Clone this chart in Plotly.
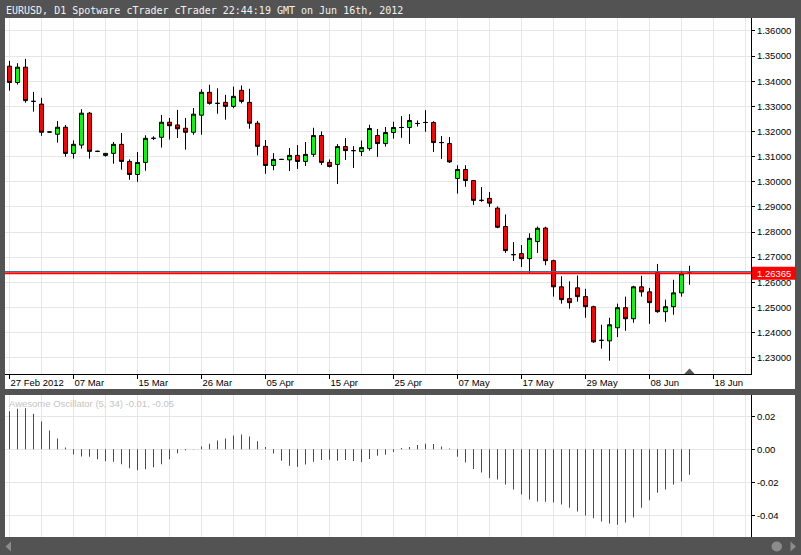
import plotly.graph_objects as go

# ---------------- data ----------------
TITLE = "EURUSD, D1 Spotware cTrader cTrader 22:44:19 GMT on Jun 16th, 2012"
OSC_LABEL = "Awesome Oscillator (5, 34) -0.01, -0.05"

date_ticks = [0, 8, 16, 24, 32, 40, 48, 56, 64, 72, 80, 88]
date_labels = ["27 Feb 2012", "07 Mar", "15 Mar", "26 Mar", "05 Apr", "15 Apr",
               "25 Apr", "07 May", "17 May", "29 May", "08 Jun", "18 Jun"]

opens = [1.3460, 1.3395, 1.3456, 1.3320, 1.3309, 1.3198, 1.3189, 1.3217, 1.3113, 1.3146,
         1.3273, 1.3121, 1.3105, 1.3113, 1.3149, 1.3081, 1.3029, 1.3077, 1.3173, 1.3177,
         1.3237, 1.3226, 1.3213, 1.3197, 1.3265, 1.3356, 1.3312, 1.3316, 1.3300, 1.3364,
         1.3316, 1.3233, 1.3141, 1.3065, 1.3089, 1.3087, 1.3105, 1.3081, 1.3109, 1.3184,
         1.3077, 1.3069, 1.3140, 1.3124, 1.3120, 1.3132, 1.3184, 1.3152, 1.3196, 1.3216,
         1.3216, 1.3232, 1.3236, 1.3236, 1.3156, 1.3152, 1.3013, 1.3049, 1.3005, 1.2926,
         1.2934, 1.2895, 1.2822, 1.2710, 1.2714, 1.2694, 1.2762, 1.2816, 1.2686, 1.2582,
         1.2535, 1.2578, 1.2543, 1.2503, 1.2369, 1.2367, 1.2419, 1.2499, 1.2455, 1.2582,
         1.2562, 1.2638, 1.2483, 1.2503, 1.2558, 1.2636]
highs = [1.3481, 1.3472, 1.3489, 1.3358, 1.3334, 1.3199, 1.3242, 1.3226, 1.3165, 1.3289,
         1.3278, 1.3124, 1.3114, 1.3158, 1.3194, 1.3089, 1.3118, 1.3185, 1.3181, 1.3266,
         1.3254, 1.3286, 1.3254, 1.3293, 1.3368, 1.3386, 1.3372, 1.3346, 1.3379, 1.3383,
         1.3370, 1.3242, 1.3166, 1.3114, 1.3091, 1.3134, 1.3146, 1.3158, 1.3215, 1.3200,
         1.3089, 1.3150, 1.3174, 1.3142, 1.3164, 1.3227, 1.3210, 1.3218, 1.3239, 1.3261,
         1.3269, 1.3244, 1.3285, 1.3241, 1.3182, 1.3178, 1.3066, 1.3066, 1.3006, 1.2979,
         1.2959, 1.2902, 1.2870, 1.2760, 1.2748, 1.2795, 1.2822, 1.2821, 1.2690, 1.2624,
         1.2604, 1.2627, 1.2574, 1.2507, 1.2431, 1.2459, 1.2515, 1.2543, 1.2586, 1.2626,
         1.2578, 1.2673, 1.2531, 1.2610, 1.2646, 1.2666]
lows = [1.3363, 1.3387, 1.3315, 1.3279, 1.3183, 1.3196, 1.3156, 1.3100, 1.3092, 1.3132,
        1.3092, 1.3118, 1.3100, 1.3072, 1.3048, 1.3008, 1.3000, 1.3044, 1.3166, 1.3136,
        1.3168, 1.3174, 1.3128, 1.3187, 1.3187, 1.3307, 1.3271, 1.3247, 1.3293, 1.3312,
        1.3211, 1.3105, 1.3032, 1.3046, 1.3087, 1.3043, 1.3051, 1.3063, 1.3099, 1.3067,
        1.3057, 1.2991, 1.3087, 1.3055, 1.3102, 1.3124, 1.3099, 1.3140, 1.3172, 1.3175,
        1.3151, 1.3220, 1.3199, 1.3119, 1.3091, 1.3075, 1.2953, 1.2980, 1.2908, 1.2920,
        1.2900, 1.2815, 1.2717, 1.2685, 1.2661, 1.2637, 1.2717, 1.2668, 1.2543, 1.2515,
        1.2495, 1.2523, 1.2459, 1.2359, 1.2336, 1.2288, 1.2382, 1.2407, 1.2439, 1.2543,
        1.2435, 1.2479, 1.2443, 1.2471, 1.2543, 1.2590]
closes = [1.3395, 1.3456, 1.3323, 1.3320, 1.3197, 1.3198, 1.3217, 1.3113, 1.3149, 1.3273,
          1.3121, 1.3121, 1.3113, 1.3149, 1.3081, 1.3029, 1.3077, 1.3173, 1.3173, 1.3237,
          1.3223, 1.3211, 1.3197, 1.3269, 1.3356, 1.3312, 1.3312, 1.3300, 1.3340, 1.3320,
          1.3233, 1.3141, 1.3065, 1.3089, 1.3089, 1.3105, 1.3081, 1.3109, 1.3184, 1.3077,
          1.3061, 1.3140, 1.3124, 1.3124, 1.3136, 1.3212, 1.3152, 1.3196, 1.3216, 1.3216,
          1.3244, 1.3232, 1.3236, 1.3156, 1.3156, 1.3079, 1.3049, 1.3005, 1.2926, 1.2926,
          1.2915, 1.2819, 1.2726, 1.2710, 1.2694, 1.2775, 1.2815, 1.2686, 1.2582, 1.2531,
          1.2519, 1.2543, 1.2503, 1.2363, 1.2369, 1.2431, 1.2499, 1.2455, 1.2582, 1.2562,
          1.2519, 1.2483, 1.2503, 1.2558, 1.2634, 1.26365]

ao = [0.0230, 0.0246, 0.0248, 0.0216, 0.0168, 0.0113, 0.0065, 0.0010, -0.0030, -0.0044,
      -0.0046, -0.0061, -0.0073, -0.0075, -0.0091, -0.0115, -0.0127, -0.0121, -0.0109, -0.0091,
      -0.0061, -0.0024, -0.0006, -0.0002, 0.0016, 0.0034, 0.0053, 0.0065, 0.0083, 0.0089,
      0.0077, 0.0048, 0.0014, -0.0026, -0.0069, -0.0100, -0.0106, -0.0093, -0.0075, -0.0065,
      -0.0063, -0.0070, -0.0065, -0.0071, -0.0077, -0.0059, -0.0040, -0.0034, -0.0016, 0.0008,
      0.0014, 0.0026, 0.0034, 0.0032, 0.0016, 0.0004, -0.0046, -0.0081, -0.0119, -0.0141,
      -0.0174, -0.0184, -0.0214, -0.0244, -0.0275, -0.0305, -0.0317, -0.0319, -0.0323, -0.0335,
      -0.0354, -0.0378, -0.0402, -0.0418, -0.0438, -0.0450, -0.0457, -0.0444, -0.0414, -0.0354,
      -0.0309, -0.0263, -0.0244, -0.0214, -0.0196, -0.0154]

osc_tickvals = [-0.04, -0.02, 0.0, 0.02]
osc_ticktext = ["-0.04", "-0.02", "0.00", "0.02"]

# ---------------- layout helpers ----------------
W, H = 801, 555
def px(x):
    return x / W
def py(y):
    return 1 - y / H

idx = list(range(len(closes)))
last = closes[-1]

PRICE_RANGE = [1.22351, 1.36517]   # axis window (y px 374 .. 18)
OSC_RANGE = [-0.0532, 0.0329]       # axis window (y px 537 .. 395)
X_RANGE = [-0.5625, 92.6875]        # 746 px / 93.25 = 8 px per bar
px_per_price = (374 - 18) / (PRICE_RANGE[1] - PRICE_RANGE[0])

FONT = "Liberation Sans, Arial, sans-serif"
FS = 9.5
GRID = "#e6e6e6"

ao_colors = ["#008000" if (i == 0 or ao[i] >= ao[i - 1]) else "#ff0000" for i in idx]

fig = go.Figure()
fig.add_trace(go.Candlestick(
    x=idx, open=opens, high=highs, low=lows, close=closes,
    increasing=dict(fillcolor="#00ff00", line=dict(color="black", width=1)),
    decreasing=dict(fillcolor="#ff0000", line=dict(color="black", width=1)),
    whiskerwidth=0, hoverinfo="skip", xaxis="x", yaxis="y"))

fig.add_trace(go.Bar(
    x=idx, y=ao, marker=dict(color=ao_colors, line=dict(width=0)),
    width=0.125, hoverinfo="skip", xaxis="x2", yaxis="y2"))

shapes = [
    # white panels
    dict(type="rect", xref="paper", yref="paper", x0=px(5), x1=px(795), y0=py(389), y1=py(18),
         fillcolor="white", line=dict(width=0), layer="below"),
    dict(type="rect", xref="paper", yref="paper", x0=px(5), x1=px(795), y0=py(537), y1=py(395),
         fillcolor="white", line=dict(width=0), layer="below"),
    # ask / bid price lines
    dict(type="line", xref="x domain", yref="y", x0=0, x1=1,
         y0=last + 1.6 / px_per_price, y1=last + 1.6 / px_per_price,
         line=dict(color="#3a6ea5", width=1)),
    dict(type="line", xref="x domain", yref="y", x0=0, x1=1, y0=last, y1=last,
         line=dict(color="#ff0000", width=2)),
    # price label box
    dict(type="rect", xref="paper", yref="y", x0=px(752), x1=px(796),
         y0=last - 6.5 / px_per_price, y1=last + 6.5 / px_per_price,
         fillcolor="#ff0000", line=dict(width=0)),
    # current-bar marker on the time axis
    dict(type="path", xref="x", yref="paper",
         path=f"M {idx[-1]-0.65},{py(374)} L {idx[-1]+0.65},{py(374)} L {idx[-1]},{py(368.5)} Z",
         fillcolor="#555555", line=dict(width=0)),
    # scrollbar glyphs
    dict(type="path", xref="paper", yref="paper",
         path=f"M {px(11)},{py(541.5)} L {px(11)},{py(551.5)} L {px(5.5)},{py(546.5)} Z",
         fillcolor="#8c8c8c", line=dict(width=0)),
    dict(type="path", xref="paper", yref="paper",
         path=f"M {px(790.5)},{py(541.5)} L {px(790.5)},{py(551.5)} L {px(796)},{py(546.5)} Z",
         fillcolor="#8c8c8c", line=dict(width=0)),
    dict(type="circle", xref="paper", yref="paper", x0=px(771.5), x1=px(782), y0=py(551.5), y1=py(541.5),
         fillcolor="#8c8c8c", line=dict(width=0)),
]

annotations = [
    dict(text=TITLE, xref="paper", yref="paper", x=px(4), y=py(10), xanchor="left", yanchor="middle",
         showarrow=False, font=dict(family="DejaVu Sans Mono, monospace", size=10, color="#f2f2f2")),
    dict(text=OSC_LABEL, xref="paper", yref="paper", x=px(7), y=py(403.5), xanchor="left", yanchor="middle",
         showarrow=False, font=dict(family=FONT, size=FS, color="#c4c4c4")),
    dict(text=f"{last:.5f}", xref="paper", yref="y", x=px(773.5), y=last, xanchor="center", yanchor="middle",
         showarrow=False, font=dict(family=FONT, size=FS, color="white")),
]

minor_grid = dict(tickmode="linear", tick0=0, dtick=4, showgrid=True, gridcolor=GRID, gridwidth=1, ticks="")

fig.update_layout(
    width=W, height=H, autosize=False,
    margin=dict(l=0, r=0, t=0, b=0, pad=0),
    paper_bgcolor="#535353", plot_bgcolor="white",
    showlegend=False, hovermode=False, boxgap=0.5, boxgroupgap=0,
    font=dict(family=FONT, size=FS, color="black"),
    shapes=shapes, annotations=annotations,
    xaxis=dict(domain=[px(5), px(751)], range=X_RANGE, anchor="y", type="linear",
               tickmode="array", tickvals=date_ticks, ticktext=date_labels,
               ticklabelposition="outside right", ticks="outside", ticklen=4, tickcolor="black",
               showline=True, linecolor="black", linewidth=1, showgrid=True, gridcolor=GRID,
               minor=minor_grid, zeroline=False, rangeslider=dict(visible=False),
               tickfont=dict(family=FONT, size=FS, color="black")),
    yaxis=dict(domain=[py(374), py(18)], range=PRICE_RANGE, side="right", anchor="x",
               tickmode="linear", tick0=1.23, dtick=0.01, tickformat=".5f",
               ticks="outside", ticklen=3, tickcolor="black",
               showline=True, linecolor="black", linewidth=1, showgrid=True, gridcolor=GRID,
               zeroline=False, tickfont=dict(family=FONT, size=FS, color="black")),
    xaxis2=dict(domain=[px(5), px(751)], range=X_RANGE, anchor="y2", matches="x", type="linear",
                tickmode="array", tickvals=date_ticks, showticklabels=False, ticks="",
                showline=False, showgrid=True, gridcolor=GRID, minor=minor_grid, zeroline=False),
    yaxis2=dict(domain=[py(537), py(395)], range=OSC_RANGE, side="right", anchor="x2",
                tickmode="array", tickvals=osc_tickvals, ticktext=osc_ticktext,
                ticks="outside", ticklen=3, tickcolor="black",
                showline=True, linecolor="black", linewidth=1, showgrid=True, gridcolor=GRID,
                zeroline=False, tickfont=dict(family=FONT, size=FS, color="black")),
)

fig.write_html(
    "out.html",
    config={"displayModeBar": False, "staticPlot": True},
    post_script="document.body.style.margin='0';document.body.style.overflow='hidden';",
)
